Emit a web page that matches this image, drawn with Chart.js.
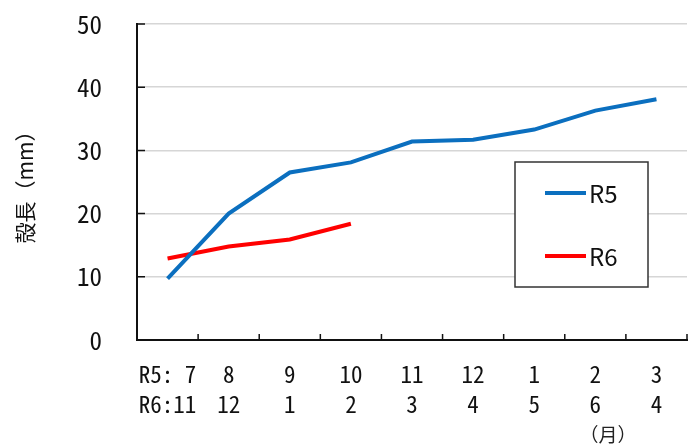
<!DOCTYPE html>
<html>
<head>
<meta charset="utf-8">
<script src="https://cdn.jsdelivr.net/npm/chart.js@4/dist/chart.umd.min.js"></script>
<style>
  html, body { margin: 0; padding: 0; background: #fff; }
  #wrap { width: 695px; height: 448px; }
</style>
</head>
<body>
<div id="wrap"><canvas id="chart" width="695" height="448"></canvas></div>
<script>
// months (R5 row / R6 row)
let r5Months = ['7', '8', '9', '10', '11', '12', '1', '2', '3'];
let r6Months = ['11', '12', '1', '2', '3', '4', '5', '6', '4'];
let r5Values = [9.7, 20.0, 26.5, 28.1, 31.4, 31.7, 33.3, 36.3, 38.1];
let r6Values = [12.9, 14.8, 15.9, 18.4, null, null, null, null, null];
let yTicks = [0, 10, 20, 30, 40, 50];

let monoFont = '"Noto Sans Mono CJK JP", "Noto Sans CJK JP", sans-serif';
let jpFont = '"Noto Sans CJK JP", sans-serif';

let labels = r5Months.map((m, i) => [
   (i === 0 ? 'R5: ' : '') + m,
   (i === 0 ? 'R6:' : '') + r6Months[i]
]);

// inside tick marks on both axes, like the original
const innerTicks = {
   id: 'innerTicks',
   afterDatasetsDraw(chart) {
      let ctx = chart.ctx;
      let x = chart.scales.x, y = chart.scales.y;
      let area = chart.chartArea;
      ctx.save();
      ctx.strokeStyle = '#111';
      ctx.lineWidth = 1.5;
      ctx.beginPath();
      yTicks.forEach(v => {
         if (v === 0) return;
         let py = y.getPixelForValue(v);
         ctx.moveTo(area.left, py);
         ctx.lineTo(area.left + 8, py);
      });
      let half = (x.getPixelForValue(1) - x.getPixelForValue(0)) / 2;
      r5Months.forEach((m, i) => {
         let px = x.getPixelForValue(i) + half;
         ctx.moveTo(px, area.bottom);
         ctx.lineTo(px, area.bottom - 6);
      });
      ctx.stroke();
      ctx.restore();
   }
};

// boxed legend inside the plot + month unit
const boxLegend = {
   id: 'boxLegend',
   afterDraw(chart) {
      let ctx = chart.ctx;
      let area = chart.chartArea;
      let bx = area.left + 378, by = 162, bw = 133, bh = 125;
      ctx.save();
      ctx.fillStyle = '#fff';
      ctx.fillRect(bx, by, bw, bh);
      ctx.strokeStyle = '#333';
      ctx.lineWidth = 1.5;
      ctx.strokeRect(bx, by, bw, bh);
      chart.data.datasets.forEach((ds, i) => {
         let ly = by + 31 + i * 63;
         ctx.strokeStyle = ds.borderColor;
         ctx.lineWidth = 4;
         ctx.beginPath();
         ctx.moveTo(bx + 30, ly);
         ctx.lineTo(bx + 71, ly);
         ctx.stroke();
         ctx.fillStyle = '#111';
         ctx.font = '24px ' + jpFont;
         ctx.textAlign = 'left';
         ctx.textBaseline = 'middle';
         ctx.fillText(ds.label, bx + 74, ly + 1);
      });
      ctx.font = '19px ' + jpFont;
      ctx.textAlign = 'center';
      ctx.fillStyle = '#222';
      ctx.fillText('（月）', area.right - 79, 435);
      ctx.restore();
   }
};

new Chart(document.getElementById('chart'), {
   type: 'line',
   data: {
      labels: labels,
      datasets: [{
         label: 'R5',
         data: r5Values,
         borderColor: '#0B6FBF',
         borderWidth: 4,
         pointRadius: 0,
         tension: 0
      }, {
         label: 'R6',
         data: r6Values,
         borderColor: '#FF0000',
         borderWidth: 4,
         pointRadius: 0,
         tension: 0
      }]
   },
   options: {
      responsive: false,
      animation: false,
      layout: { padding: { top: 24, right: 8, left: 0, bottom: 0 } },
      plugins: {
         legend: { display: false },
         tooltip: { enabled: false }
      },
      scales: {
         x: {
            offset: true,
            afterFit: scale => { scale.height = 108; },
            grid: { display: false },
            border: { display: true, color: '#111', width: 2 },
            ticks: {
               padding: 12,
               color: '#111',
               maxRotation: 0,
               autoSkip: false,
               font: { family: monoFont, size: 23, lineHeight: 1.28 }
            }
         },
         y: {
            min: 0,
            max: 50,
            afterFit: scale => { scale.width = 137; },
            afterBuildTicks: scale => { scale.ticks = yTicks.map(v => ({ value: v })); },
            grid: { color: '#d6d6d6', lineWidth: 1.5, drawTicks: true, tickLength: 35, tickColor: 'rgba(0,0,0,0)' },
            border: { display: true, color: '#111', width: 2 },
            ticks: {
               padding: 0,
               color: '#111',
               font: { family: monoFont, size: 25 }
            },
            title: {
               display: true,
               text: '殻長（mm）',
               color: '#111',
               padding: { top: 12, bottom: 0 },
               font: { family: jpFont, size: 21 }
            }
         }
      }
   },
   plugins: [innerTicks, boxLegend]
});
</script>
</body>
</html>
